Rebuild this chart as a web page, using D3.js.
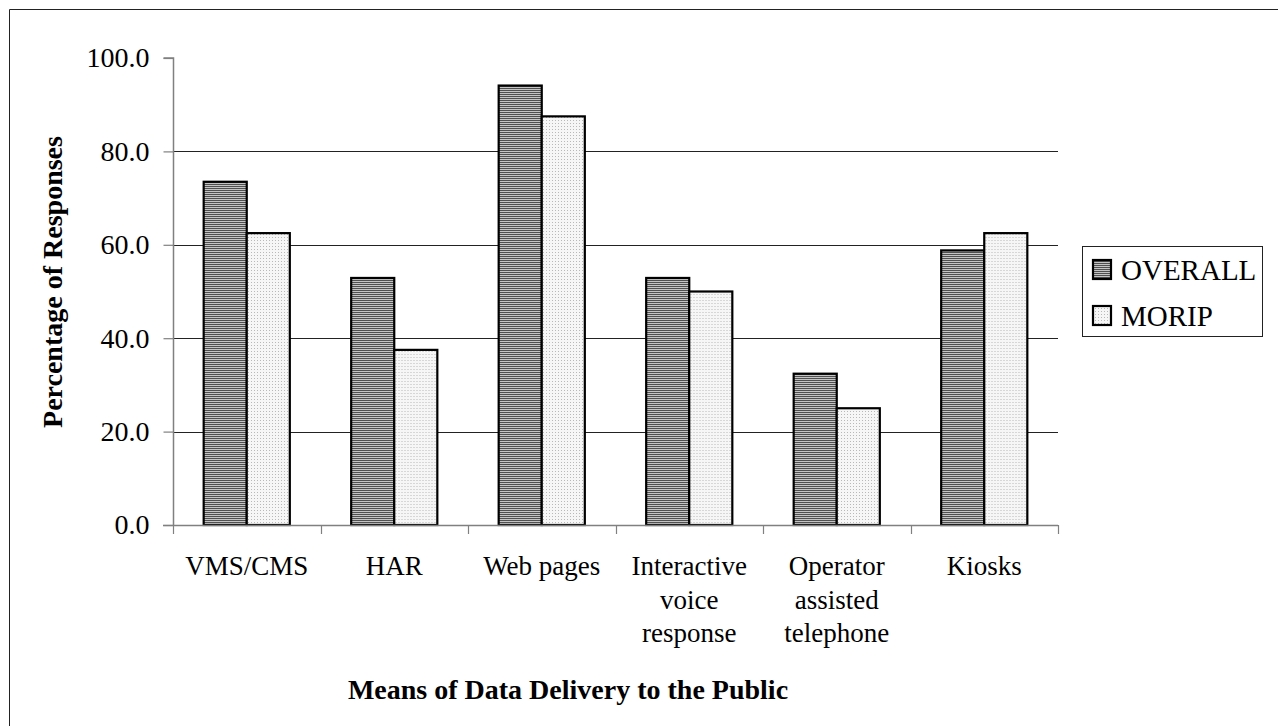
<!DOCTYPE html>
<html>
<head>
<meta charset="utf-8">
<script src="https://cdn.jsdelivr.net/npm/d3@7"></script>
<style>
  html, body { margin: 0; padding: 0; background: #fff; }
  svg { display: block; }
</style>
</head>
<body>
<svg id="chart" width="1278" height="726" font-family="Liberation Serif, serif"></svg>
<script>
// Means of data delivery and response shares (%)
const categories = [
  ["VMS/CMS"],
  ["HAR"],
  ["Web pages"],
  ["Interactive", "voice", "response"],
  ["Operator", "assisted", "telephone"],
  ["Kiosks"]
];
const seriesNames = ["OVERALL", "MORIP"];
const overall = [73.5, 52.9, 94.1, 52.9, 32.4, 58.8];
const morip   = [62.5, 37.5, 87.5, 50.0, 25.0, 62.5];
const yTicks  = [0, 20, 40, 60, 80, 100];
const gridValues = [20, 40, 60, 80];

const FONT = "Liberation Serif, serif";
const svg = d3.select("#chart");
const W = 1278, H = 726;
const plot = { left: 173, right: 1058, top: 58, bottom: 525 };

// Hatch fills for the two series
const defs = svg.append("defs");
const pStripe = defs.append("pattern")
  .attr("id", "fillOverall").attr("patternUnits", "userSpaceOnUse")
  .attr("width", 4).attr("height", 2);
pStripe.append("rect").attr("width", 4).attr("height", 2).attr("fill", "#c4c4c4");
pStripe.append("rect").attr("width", 4).attr("height", 1).attr("fill", "#505050");

const pDots = defs.append("pattern")
  .attr("id", "fillMorip").attr("patternUnits", "userSpaceOnUse")
  .attr("width", 3).attr("height", 3);
pDots.append("rect").attr("width", 3).attr("height", 3).attr("fill", "#f6f6f6");
pDots.append("rect").attr("width", 1).attr("height", 1).attr("fill", "#b8b8b8");

const fills = ["url(#fillOverall)", "url(#fillMorip)"];

// Background and frame
svg.append("rect").attr("width", W).attr("height", H).attr("fill", "#fff");
svg.append("path")
  .attr("d", `M9.5,${H + 5} V9.5 H${W + 5}`)
  .attr("fill", "none").attr("stroke", "#222").attr("stroke-width", 1);

// Scales
const x0 = d3.scaleBand()
  .domain(d3.range(categories.length))
  .range([plot.left, plot.right])
  .paddingInner(0).paddingOuter(0);
const groupPad = 0.208;
const x1 = d3.scaleBand()
  .domain(d3.range(seriesNames.length))
  .range([x0.bandwidth() * groupPad, x0.bandwidth() * (1 - groupPad)])
  .padding(0);
const y = d3.scaleLinear().domain([0, 100]).range([plot.bottom, plot.top]);

// Gridlines
svg.append("g").selectAll("line").data(gridValues).join("line")
  .attr("x1", plot.left).attr("x2", plot.right)
  .attr("y1", d => Math.round(y(d)) + 0.5).attr("y2", d => Math.round(y(d)) + 0.5)
  .attr("stroke", "#222").attr("stroke-width", 1);

// Bars
const data = categories.map((c, i) => [overall[i], morip[i]]);
const groups = svg.append("g").selectAll("g").data(data).join("g")
  .attr("transform", (d, i) => `translate(${x0(i)},0)`);
groups.selectAll("rect").data(d => d.map((v, s) => ({ v, s }))).join("rect")
  .attr("x", d => x1(d.s))
  .attr("width", x1.bandwidth())
  .attr("y", d => y(d.v))
  .attr("height", d => y(0) - y(d.v))
  .attr("fill", d => fills[d.s])
  .attr("stroke", "#000").attr("stroke-width", 2.2);

// Y axis
const yAxis = d3.axisLeft(y).tickValues(yTicks).tickSize(10).tickPadding(14)
  .tickFormat(d3.format(".1f"));
const gy = svg.append("g").attr("transform", `translate(${plot.left + 0.5},0)`).call(yAxis);
gy.attr("font-family", FONT);
gy.select(".domain").attr("stroke", "#808080").attr("stroke-width", 1.5)
  .attr("d", `M-10,${plot.top}H0V${plot.bottom}`);
gy.selectAll(".tick line").attr("stroke", "#808080").attr("stroke-width", 1.2);
gy.selectAll(".tick text")
  .attr("font-family", FONT).attr("font-size", 28)
  .attr("fill", "#000");

// X axis (ticks at category boundaries)
const boundaries = d3.range(categories.length + 1).map(i =>
  i < categories.length ? x0(i) : x0(categories.length - 1) + x0.bandwidth());
const gx = svg.append("g");
gx.append("line")
  .attr("x1", plot.left - 10).attr("x2", plot.right)
  .attr("y1", plot.bottom + 0.5).attr("y2", plot.bottom + 0.5)
  .attr("stroke", "#808080").attr("stroke-width", 1.5);
gx.selectAll("line.tk").data(boundaries).join("line").attr("class", "tk")
  .attr("x1", d => Math.round(d) + 0.5).attr("x2", d => Math.round(d) + 0.5)
  .attr("y1", plot.bottom).attr("y2", plot.bottom + 9)
  .attr("stroke", "#808080").attr("stroke-width", 1.2);

// Category labels
const catLabels = svg.append("g").selectAll("text").data(categories).join("text")
  .attr("x", (d, i) => x0(i) + x0.bandwidth() / 2)
  .attr("y", 575)
  .attr("text-anchor", "middle")
  .attr("font-family", FONT)
  .attr("font-size", 27).attr("fill", "#000");
catLabels.selectAll("tspan").data(d => d).join("tspan")
  .attr("x", function () { return this.parentNode.getAttribute("x"); })
  .attr("dy", (d, i) => i === 0 ? 0 : 33.5)
  .text(d => d);

// Axis titles
svg.append("text")
  .attr("x", 568).attr("y", 699)
  .attr("text-anchor", "middle")
  .attr("font-family", FONT)
  .attr("font-size", 28).attr("font-weight", "bold")
  .text("Means of Data Delivery to the Public");
svg.append("text")
  .attr("transform", `translate(62,282) rotate(-90)`)
  .attr("text-anchor", "middle")
  .attr("font-family", FONT)
  .attr("font-size", 28).attr("font-weight", "bold")
  .text("Percentage of Responses");

// Legend
const lg = svg.append("g");
lg.append("rect")
  .attr("x", 1082.5).attr("y", 246.5).attr("width", 180).attr("height", 90)
  .attr("fill", "#fff").attr("stroke", "#222").attr("stroke-width", 1);
const items = lg.selectAll("g").data(seriesNames).join("g")
  .attr("transform", (d, i) => `translate(1092,${259 + i * 46})`);
items.append("rect")
  .attr("x", 1).attr("y", 1).attr("width", 18).attr("height", 19)
  .attr("fill", (d, i) => fills[i])
  .attr("stroke", "#000").attr("stroke-width", 2.2);
items.append("text")
  .attr("x", 29).attr("y", 21)
  .attr("font-family", FONT)
  .attr("font-size", 29).attr("fill", "#000")
  .text(d => d);
</script>
</body>
</html>
